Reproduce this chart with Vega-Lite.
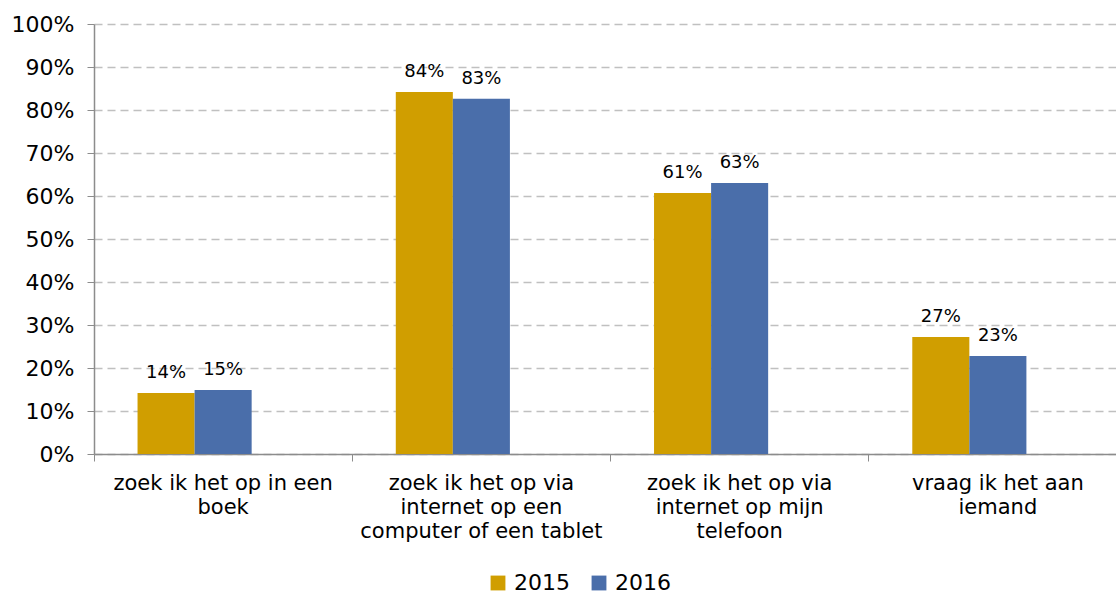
{
  "$schema": "https://vega.github.io/schema/vega-lite/v6.json",
  "width": 1022,
  "height": 430,
  "autosize": {"type": "none"},
  "padding": {"left": 94, "top": 24, "right": 0, "bottom": 142},
  "background": "white",
  "config": {
    "font": "DejaVu Sans",
    "view": {"stroke": null}
  },
  "data": {
    "values": [
      {"category": "zoek ik het op in een boek", "year": "2015", "value": 0.142},
      {"category": "zoek ik het op in een boek", "year": "2016", "value": 0.149},
      {"category": "zoek ik het op via internet op een computer of een tablet", "year": "2015", "value": 0.842},
      {"category": "zoek ik het op via internet op een computer of een tablet", "year": "2016", "value": 0.826},
      {"category": "zoek ik het op via internet op mijn telefoon", "year": "2015", "value": 0.607},
      {"category": "zoek ik het op via internet op mijn telefoon", "year": "2016", "value": 0.630},
      {"category": "vraag ik het aan iemand", "year": "2015", "value": 0.272},
      {"category": "vraag ik het aan iemand", "year": "2016", "value": 0.228}
    ]
  },
  "encoding": {
    "x": {
      "field": "category",
      "type": "nominal",
      "sort": null,
      "scale": {"range": [0, 1033], "paddingInner": 0, "paddingOuter": 0},
      "axis": {
        "title": null,
        "labelAngle": 0,
        "bandPosition": 0,
        "labelFontSize": 21,
        "labelColor": "#000000",
        "labelLineHeight": 24,
        "labelPadding": 11,
        "labelBaseline": "top",
        "tickSize": 7,
        "tickColor": "#8c8c8c",
        "domainColor": "#8c8c8c",
        "domainWidth": 1.5,
        "labelLimit": 400,
        "labelOverlap": false,
        "labelBound": false,
        "labelExpr": "datum.label == 'zoek ik het op in een boek' ? ['zoek ik het op in een', 'boek'] : datum.label == 'zoek ik het op via internet op een computer of een tablet' ? ['zoek ik het op via', 'internet op een', 'computer of een tablet'] : datum.label == 'zoek ik het op via internet op mijn telefoon' ? ['zoek ik het op via', 'internet op mijn', 'telefoon'] : ['vraag ik het aan', 'iemand']"
      }
    },
    "xOffset": {
      "field": "year",
      "type": "nominal",
      "scale": {"domain": ["2015", "2016", "2017"], "paddingInner": 0, "paddingOuter": 0.763}
    },
    "y": {
      "field": "value",
      "type": "quantitative",
      "scale": {"domain": [0, 1], "nice": false},
      "axis": {
        "title": null,
        "format": ".0%",
        "values": [0, 0.1, 0.2, 0.3, 0.4, 0.5, 0.6, 0.7, 0.8, 0.9, 1],
        "labelFontSize": 22,
        "labelColor": "#000000",
        "labelPadding": 13,
        "labelOverlap": false,
        "labelBound": false,
        "labelFlush": false,
        "tickSize": 7,
        "tickColor": "#8c8c8c",
        "domainColor": "#8c8c8c",
        "domainWidth": 1.5,
        "grid": true,
        "gridColor": "#c0c0c0",
        "gridDash": [8, 5],
        "gridWidth": 1.5
      }
    }
  },
  "layer": [
    {
      "mark": {"type": "bar"},
      "encoding": {
        "color": {
          "field": "year",
          "type": "nominal",
          "scale": {"domain": ["2015", "2016"], "range": ["#D09E00", "#4A6EAA"]},
          "legend": {
            "title": null,
            "orient": "none",
            "legendX": 393,
            "legendY": 548,
            "direction": "horizontal",
            "symbolType": "square",
            "symbolSize": 220,
            "symbolStrokeWidth": 0,
            "labelFontSize": 22,
            "labelColor": "#000000",
            "columnPadding": 18,
            "labelOffset": 5
          }
        }
      }
    },
    {
      "mark": {"type": "text", "baseline": "alphabetic", "dy": -15, "fontSize": 18, "color": "#000000"},
      "encoding": {
        "text": {"field": "value", "type": "quantitative", "format": ".0%"}
      }
    }
  ]
}
